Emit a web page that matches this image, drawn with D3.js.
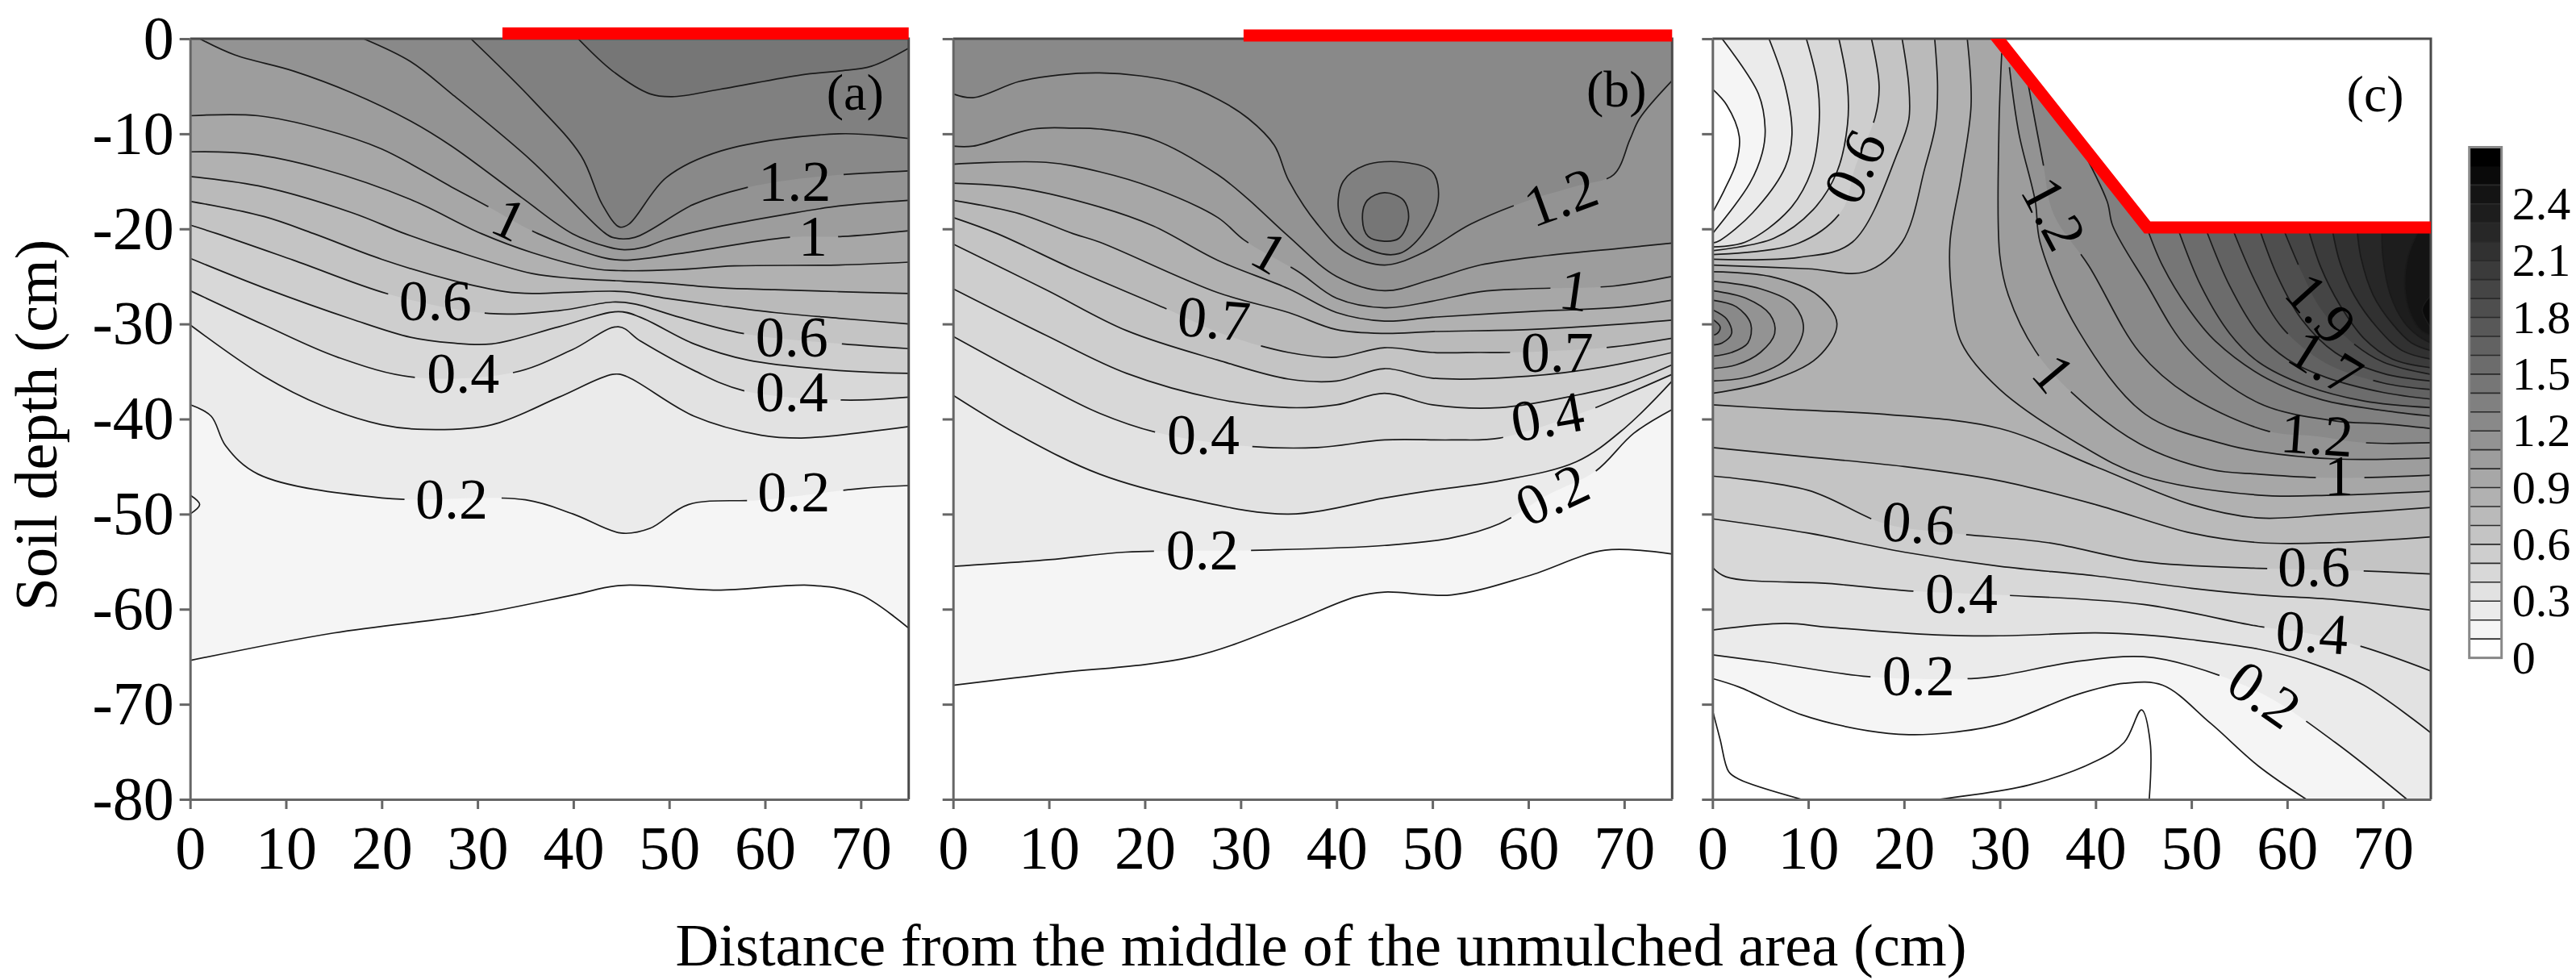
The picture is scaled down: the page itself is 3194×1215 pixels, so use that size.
<!DOCTYPE html>
<html><head><meta charset="utf-8">
<script src="https://d3js.org/d3.v7.min.js"></script>
<style>html,body{margin:0;padding:0;background:#fff}svg{display:block}text{font-family:"Liberation Serif","Times New Roman",serif;fill:#000}</style>
</head><body>
<script>
const xTicks=[0,10,20,30,40,50,60,70];
const yTicks=[0,-10,-20,-30,-40,-50,-60,-70,-80];
const barTicks=[0,0.3,0.6,0.9,1.2,1.5,1.8,2.1,2.4];
const barLevels=d3.range(0,28).map(i=>i/10);

// soil water contours: [level, [segment of (distance, depth) points, ...]]
const linesA=[
[0.1,[[[0,-65.4],[15,-62.5],[30,-60.5],[40,-58.5],[45,-57.5],[55,-58],[65,-57.5],[70,-58.5],[75,-62]]]],
[0.2,[[[0,-38.5],[2.2,-39.7],[3.7,-42.8],[7.1,-45.8],[20,-48.3],[35,-48.5],[40,-50],[45,-52],[48,-51.5],[52,-49],[60,-48.5],[70,-47.3],[75,-47]]]],
[0.3,[[[0,-30.1],[7.7,-35.5],[13.8,-38.6],[20,-40.6],[24.5,-41.1],[31.5,-40.6],[38.5,-37.7],[44.1,-35.3],[45.5,-35.5],[52.6,-39.7],[59.6,-41.7],[63.8,-42],[67.7,-41.7],[75,-40.8]]]],
[0.4,[[[0,-26.5],[7.7,-30.1],[15.4,-33.5],[23.3,-35.6],[33.8,-35.1],[39.9,-32.7],[44.7,-30.3],[47,-31.8],[52.6,-34.9],[57.7,-37],[68.1,-38],[75,-37.7]]]],
[0.5,[[[0,-23.1],[7.7,-26.2],[16.9,-29.5],[23,-31.4],[27.3,-32],[31.5,-32.1],[38.5,-30.3],[44.7,-28.7],[47,-29.3],[52.6,-32.1],[58.2,-33.8],[67.7,-34.9],[75,-35.2]]]],
[0.6,[[[0,-19.6],[2.8,-20.5],[10.8,-23.3],[21.2,-27],[31.2,-28.9],[38.5,-28.6],[44.1,-27.7],[46.4,-27.9],[51.1,-29.3],[57.7,-31],[68.1,-32.1],[75,-32.6]]]],
[0.7,[[[0,-17.1],[7.7,-18.7],[12.9,-20.5],[20,-23.2],[27.3,-25.4],[32.9,-26.6],[35.7,-26.8],[41.3,-26.6],[45.3,-26.6],[49.7,-27.3],[55.4,-28.1],[61,-28.8],[67.7,-29.4],[75,-30]]]],
[0.8,[[[0,-14.5],[7.7,-15.6],[16.9,-18.3],[22.4,-20.5],[27.3,-22.2],[35.7,-24.7],[39.9,-25.2],[45.3,-25.5],[49.2,-25.7],[55.4,-26.2],[61,-26.4],[67.7,-26.6],[75,-26.8]]]],
[0.9,[[[0,-11.9],[6.2,-12.1],[13.8,-13.7],[23,-16.9],[30.4,-20.5],[35.7,-22.5],[42.2,-24.2],[45.3,-24.4],[50.6,-24.3],[56.8,-23.9],[67.7,-23.8],[75,-23.5]]]],
[1.0,[[[0,-8.1],[7.1,-8.1],[13.8,-9.5],[20,-11.6],[27.3,-15.6],[31,-17.6],[36.3,-20.5],[43,-23],[45.3,-23.3],[51.1,-22.6],[62.4,-20.9],[68.1,-20.8],[75,-20.2]]]],
[1.1,[[[1,0],[4.65,-1.7],[10.8,-3.4],[16.9,-5.7],[23,-8.65],[27.3,-11.3],[34.6,-16.7],[39.9,-20.5],[43.6,-21.9],[45.3,-22.2],[47.5,-21.9],[49.7,-21.1],[55,-19.8],[62,-18.5],[67.7,-17.6],[75,-17]]]],
[1.2,[[[18.1,0],[23,-2.4],[27.3,-5.8],[35.7,-12.9],[43,-20.2],[44.1,-20.9],[46.4,-20.9],[52.6,-17.4],[57.9,-15.7],[63,-14.8],[68.1,-14.3],[75,-13.9]]]],
[1.3,[[[29.3,0],[35.7,-6.4],[40.8,-12.3],[43,-17.4],[44.8,-19.8],[45.8,-19.5],[49.7,-14.6],[55.4,-11.8],[67.7,-10],[75,-10.5]]]],
[1.4,[[[40.5,0],[44.1,-3.4],[48,-5.8],[50.3,-6.1],[55.4,-5.3],[63.8,-3.8],[67.7,-3.4],[71.1,-2.9],[75,-1]]]]
];
const linesB=[
[0.1,[[[0,-68],[10,-66.8],[25,-65],[35,-61.5],[42,-58.7],[45,-58.2],[52,-58.5],[60,-56.5],[68,-53.8],[75,-54.2]]]],
[0.2,[[[0,-55.5],[10,-54.8],[18,-54],[32,-53.8],[45,-53.3],[52,-52.5],[57,-51],[62,-48],[67,-45.5],[71,-41.5],[75,-39]]]],
[0.3,[[[0,-37.5],[6.9,-41.7],[15.3,-45.8],[25,-48.5],[35,-50],[45,-48.3],[50,-47.5],[57,-46.5],[65,-44.5],[70,-41],[75,-36]]]],
[0.4,[[[0,-31.3],[9.7,-36.6],[15.3,-39.4],[21.2,-41.4],[30,-42.8],[38,-43],[45,-42.2],[52,-42.2],[57,-42],[66,-39.2],[70,-37.5],[75,-35.3]]]],
[0.5,[[[0,-26.3],[9.7,-31.2],[18.1,-35.2],[27.6,-37.9],[35,-38.8],[40,-38.5],[45,-37.3],[50,-38.5],[57,-38.8],[65,-37.5],[70,-36.3],[75,-34.3]]]],
[0.6,[[[0,-21.6],[9.7,-26.4],[18.1,-30.7],[27.6,-33.8],[35,-35.8],[40,-36],[45,-34.7],[50,-35.7],[60,-35.5],[68,-34.5],[75,-33]]]],
[0.7,[[[0,-18.8],[4.6,-20.5],[12.5,-24.2],[22,-28.3],[28,-31],[35,-33],[40,-33.5],[45,-32.5],[50,-33],[55,-33],[58,-33],[68,-32.5],[75,-31.5]]]],
[0.8,[[[0,-17],[6.9,-18.4],[12.5,-20.5],[15.3,-21.4],[27.6,-26.7],[35,-28.8],[40,-30.6],[45,-31],[50,-30.8],[60,-30.6],[70,-30],[75,-29.6]]]],
[0.9,[[[0,-15.2],[6.9,-15.7],[15.3,-17.7],[20.9,-19.7],[27.6,-23.3],[35,-26.3],[40,-28.8],[45,-29.7],[50,-29.3],[60,-28.7],[70,-28.2],[75,-27.5]]]],
[1.0,[[[0,-13.2],[9.7,-13],[15.3,-14],[20.9,-15.7],[27.6,-18.8],[30.4,-21.2],[36,-24.5],[40,-27.3],[45,-28.3],[50,-27.6],[55,-26.6],[60,-26.3],[69,-26],[75,-25]]]],
[1.1,[[[0,-11.3],[2.1,-11.3],[8.3,-9.5],[12.5,-9.4],[15.3,-9.5],[20.9,-10.6],[27.6,-14.3],[30.8,-16.9],[35,-20.8],[40,-25],[45,-26.5],[50,-25.3],[55,-23.8],[62,-22.8],[70,-22],[75,-21.5]]]],
[1.2,[[[0,-5.8],[2.1,-6.2],[6.9,-4.5],[11.1,-3.8],[15.3,-3.6],[19.5,-3.9],[23.7,-4.7],[27.7,-6.4],[30.8,-8.4],[33.5,-11.2],[35,-14.9],[38,-19.5],[41,-22.5],[45,-23.8],[49,-22.5],[54,-19.5],[60,-17],[65,-15.5],[68.9,-14.3],[70.6,-10.6],[71.6,-8.4],[75,-4.4]]]]
];
const bubblesB=[
[1.3,[[40.2,-18],[40.7,-15],[43,-13.3],[47,-13],[50,-14],[50.6,-17],[49,-20.5],[46.5,-22.6],[43.7,-22.3],[41.3,-20.5]]],
[1.4,[[42.7,-19],[43.2,-17],[45,-16.2],[47,-17],[47.5,-19],[46.5,-21],[45,-21.3],[43.3,-20.8]]]
];
const linesC=[
[0.1,[[[0,-67.3],[2.8,-68.2],[9.3,-71.1],[16.3,-72.8],[20.5,-73.2],[24.7,-73],[30,-72.1],[38,-69],[43,-67.8],[47,-68],[52,-72],[57,-76.5],[62,-80]]]],
[0.2,[[[1,0],[4.8,-5.8],[5.5,-9.5],[5.2,-12],[3.9,-15.2],[0,-20.5]],[[0,-64.8],[6,-65.6],[16.3,-67.1],[27,-67.3],[30,-67],[38,-65.5],[45,-65],[50,-66],[57.6,-69],[65,-74],[72.5,-80]]]],
[0.3,[[[5.9,0],[7.6,-5],[8.3,-10.1],[7.6,-13.5],[4.2,-18.3],[0.8,-21.2],[0,-21.5]],[[0,-62.2],[7.6,-61.5],[12.1,-61.9],[23.3,-62.7],[30,-62.8],[40,-62.5],[45,-62.7],[50,-63.2],[57,-64.2],[62,-65.5],[68,-68],[75,-73]]]],
[0.4,[[[9.8,0],[11,-5],[11.1,-9.5],[10.3,-14],[8,-18],[3.4,-21.4],[0,-21.9]],[[0,-55.6],[1.4,-56.6],[12.1,-57.3],[20.9,-58.1],[30,-58.5],[45,-59.5],[57,-61.8],[62,-62.5],[68,-64],[75,-66.5]]]],
[0.5,[[[13.2,0],[14.1,-5],[14.1,-9],[13,-14],[10.5,-18],[6.4,-21],[0,-22.3]],[[0,-50.5],[10,-52],[20,-54],[30,-55.5],[40,-56.5],[50,-57.8],[57,-58.5],[65,-59],[75,-60.1]]]],
[0.6,[[[16.6,0],[17.4,-5],[17,-8.2],[14.9,-13.5],[13.5,-18.1],[9,-21.5],[0,-22.7]],[[0,-46],[10,-47.5],[18,-51],[25,-52],[35,-53],[45,-55],[57,-55.7],[66,-55.9],[75,-56.3]]]],
[0.7,[[[19.8,0],[20.5,-5],[20.5,-8.5],[19.4,-11.8],[14.6,-21.4],[9,-23],[0,-23.2]],[[0,-43],[10,-44],[20,-45],[30,-46.5],[40,-49],[50,-52],[57,-53],[65,-53],[75,-52.4]]]],
[0.8,[[[23.2,0],[23.5,-5],[23.3,-9],[22.2,-13.5],[19.8,-21.4],[16,-24.5],[10,-24.2],[0,-23.8]],[[0,-38.5],[8,-39],[18,-39.5],[30,-41],[40,-45],[50,-49],[57,-50.4],[65,-50],[75,-49.3]]]],
[0.9,[[[26.6,0],[27,-7],[26,-14.3],[24.8,-21.4],[25,-27],[26,-32],[30,-36.9],[38.2,-42.6],[45,-46],[57,-48],[65,-48],[75,-47.6]]]],
[1.0,[[[30.2,-1.5],[29.9,-10],[30,-22.8],[30.9,-27],[33.7,-32.8],[37.6,-37.3],[44.6,-42.6],[52,-45.3],[57,-45.8],[65,-46.2],[75,-45.9]]]],
[1.1,[[[31,-3],[32,-10],[33.7,-17.1],[34.2,-21.4],[38.2,-30.7],[45.2,-39.5],[53.3,-42.6],[57,-43.4],[65,-44.2],[75,-44.1]]]],
[1.2,[[[33,-5],[34.5,-13],[35.6,-18.4],[39.3,-23.9],[44.6,-33],[49.7,-37.5],[58.1,-41.3],[63,-41.8],[68.2,-42.5],[75,-42.5]]]],
[1.3,[[[38,-10.5],[41.2,-17.1],[41.8,-19.7],[45.2,-25.6],[49.7,-32.7],[57,-38.3],[65,-40.2],[70,-40.5],[75,-41]]]],
[1.4,[[[45.4,-20],[47,-23.9],[49.7,-28.4],[52.5,-31.8],[58,-35.8],[63.7,-38],[70,-39.1],[75,-39.7]]]],
[1.5,[[[48.6,-20],[51,-26],[54,-31],[57,-34],[62,-36.5],[68,-38.1],[75,-38.8]]]],
[1.6,[[[51.5,-20],[54,-26],[57,-31],[60,-33.7],[64,-35.6],[70,-37.2],[75,-37.9]]]],
[1.7,[[[54.3,-20],[56.7,-25.6],[59.5,-30.4],[64,-34.1],[70,-36.2],[75,-36.9]]]],
[1.8,[[[57.1,-20],[59,-25],[61.5,-29.5],[65,-33],[70,-35.2],[75,-36]]]],
[1.9,[[[59.6,-20],[61.5,-24.5],[63.5,-28.4],[66.5,-31.7],[70,-34],[75,-35.3]]]],
[2.0,[[[62.2,-20],[63.5,-24],[65.5,-28],[68,-31.5],[71,-33.7],[75,-34.6]]]],
[2.1,[[[64.7,-20],[65.5,-23.5],[67,-27],[69.5,-30.5],[72,-32.8],[75,-33.7]]]],
[2.2,[[[67.3,-20],[67.7,-23],[69,-27],[71,-30],[73,-32],[75,-32.8]]]],
[2.3,[[[69.9,-20],[70,-23],[70.8,-27],[72.2,-29.8],[73.6,-31.2],[75,-32]]]],
[2.4,[[[73.8,-20],[72.6,-23],[72.3,-26.3],[72.9,-29],[74,-30.7],[75,-31.2]]]]
];
// closed along the left or right edge of panel c
const edgeLoopsC=[
[0.9,[[0,-24.5],[6,-25],[11,-27],[13,-30],[11,-33.5],[6,-36],[0,-37.3]]],
[1.0,[[0,-25.5],[5,-26.3],[8.5,-28],[9.5,-30.5],[8,-33.5],[4,-35.5],[0,-36]]],
[1.1,[[0,-26.5],[3.5,-27.3],[6,-29],[6.5,-31],[5,-33],[2.5,-34.3],[0,-34.7]]],
[1.2,[[0,-27.5],[2.5,-28.2],[4,-30],[3.7,-32],[2,-33],[0,-33.4]]],
[1.3,[[0,-28.5],[1.5,-29.5],[2,-31],[1,-32],[0,-32.2]]],
[1.4,[[0,-29.5],[0.8,-30.3],[0.5,-31],[0,-31.2]]],
[2.5,[[75,-27],[74.1,-28.5],[75,-30.4]]]
];
const pocketC=[[0,-5.3],[1.5,-7],[2.8,-10.3],[2.5,-13],[1.2,-16],[0,-18.3]];
const bareLinesA=[[[0,-48],[1,-49],[0,-50]]];
const bareLinesC=[[[0,-70.6],[0.8,-73.7],[1.7,-77.1],[2.8,-77.9],[9.3,-80]],[[23.6,-80],[33,-78.5],[40,-76],[43,-74],[44.8,-70.6],[45.7,-74],[45.6,-80]]];

const mulchA=[[32.6,0.55],[75,0.55]];
const mulchB=[[30.3,0.34],[75,0.34]];
const mulchC=[[29.4,0.5],[45.4,-19.85],[75,-19.85]];
const mulchVoidC=[[29.8,0],[45.4,-19.85],[75,-19.85],[75,0]];

// contour labels: [text, level, distance, depth, rotation]
const labelsA=[["0.2",0.2,27.3,-48.5,0],["0.2",0.2,63,-47.7,0],["0.4",0.4,28.5,-35.2,0],["0.4",0.4,62.8,-37.2,0],["0.6",0.6,25.6,-27.6,0],["0.6",0.6,62.8,-31.4,0],["1.2",1.2,63.1,-15,0],["1",1.0,65,-20.8,0],["1",1.0,33.3,-19,25]];
const labelsB=[["1.2",1.2,63.4,-16.7,-20],["1",1.0,64.8,-26.5,8],["1",1.0,33,-22.5,30],["0.7",0.7,27.2,-29.5,5],["0.4",0.4,26.1,-41.7,0],["0.7",0.7,63,-33,0],["0.4",0.4,62,-39.8,-10],["0.2",0.2,26,-53.8,0],["0.2",0.2,62.5,-48,-25]];
const labelsC=[["0.6",0.6,14.9,-13.5,-65],["1.2",1.2,35.6,-18.4,62],["1",1.0,35.6,-35.2,50],["1.9",1.9,63.5,-28.4,48],["1.7",1.7,64,-34.1,32],["1.2",1.2,63.1,-41.7,4],["1",1.0,65.4,-46,0],["0.6",0.6,62.8,-55.6,0],["0.4",0.4,62.6,-62.5,4],["0.2",0.2,57.6,-69,35],["0.6",0.6,21.5,-51,4],["0.4",0.4,26,-58.4,0],["0.2",0.2,21.5,-67,0]];

const W=3194,H=1215,TOP=48,BOTTOM=991;
const svg=d3.select("body").append("svg").attr("width",W).attr("height",H);
const grey=d3.scaleLinear().domain([0,26]).range([255,0]);
const band=l=>{const g=Math.round(grey(Math.round(l*10)));return `rgb(${g},${g},${g})`;};
const y=d3.scaleLinear().domain([0,-80]).range([TOP,BOTTOM]);

function panel(id,x0,x1,lines,opts){
  const x=d3.scaleLinear().domain([0,75]).range([x0,x1]);
  const line=d3.line().x(d=>x(d[0])).y(d=>y(d[1])).curve(d3.curveCatmullRom.alpha(0.5));
  const poly=d3.line().x(d=>x(d[0])).y(d=>y(d[1]));
  const closed=d3.line().x(d=>x(d[0])).y(d=>y(d[1])).curve(d3.curveCatmullRomClosed.alpha(0.5));
  const g=svg.append("g");
  const clipId="clip"+id;
  svg.append("clipPath").attr("id",clipId).append("rect").attr("x",x0).attr("y",TOP).attr("width",x1-x0).attr("height",BOTTOM-TOP);
  const plot=g.append("g").attr("clip-path",`url(#${clipId})`);
  plot.append("rect").attr("x",x0).attr("y",TOP).attr("width",x1-x0).attr("height",BOTTOM-TOP).attr("fill","#fff");
  const fills=plot.append("g"), strokes=plot.append("g");
  const labels=opts.labels;
  function stroke(d,level){
    const p=strokes.append("path").attr("d",d).attr("fill","none").attr("stroke","#1a1a1a").attr("stroke-width",1.7);
    const mine=labels.filter(l=>l[1]===level);
    if(!mine.length)return;
    const node=p.node(),L=node.getTotalLength();
    const dash=[];let inside=false,run=0;
    for(let s=0;s<=L;s+=2){
      const pt=node.getPointAtLength(s);
      const hit=mine.some(l=>{
        const a=l[4]*Math.PI/180,dx=pt.x-x(l[2]),dy=pt.y-y(l[3]);
        const u=dx*Math.cos(a)+dy*Math.sin(a),v=-dx*Math.sin(a)+dy*Math.cos(a);
        const hw=l[0].length===1?30:60;
        return Math.abs(u)<hw&&Math.abs(v)<45;
      });
      if(hit!==inside){dash.push(run);run=0;inside=hit;}
      run+=2;
    }
    dash.push(run);
    if(dash.length>1)p.attr("stroke-dasharray",dash.join(" "));
  }
  const levels=d3.range(1,26).map(i=>i/10);
  levels.forEach(level=>{
    lines.filter(l=>Math.abs(l[0]-level)<1e-6).forEach(l=>{
      const segs=l[1];
      let d=segs.map((s,i)=>{const t=line(s);return i?"L"+t.slice(1):t;}).join("");
      const first=segs[0][0],last=segs[segs.length-1][segs[segs.length-1].length-1];
      d+=poly([[75,last[1]],[75,0],[first[0],0]]).replace("M","L")+"Z";
      fills.append("path").attr("d",d).attr("fill",band(level));
      segs.forEach(s=>stroke(line(s),level));
    });
    (opts.edgeLoops||[]).filter(l=>Math.abs(l[0]-level)<1e-6).forEach(l=>{
      fills.append("path").attr("d",line(l[1])+"Z").attr("fill",band(level));
      stroke(line(l[1]),level);
    });
    (opts.bubbles||[]).filter(l=>Math.abs(l[0]-level)<1e-6).forEach(l=>{
      fills.append("path").attr("d",closed(l[1])).attr("fill",band(level));
      stroke(closed(l[1]),level);
    });
    if(opts.pocket&&Math.abs(level-0.1)<1e-6){
      fills.append("path").attr("d",line(opts.pocket)+"Z").attr("fill","#fff");
      stroke(line(opts.pocket),level);
    }
  });
  (opts.bare||[]).forEach(s=>stroke(line(s),-1));
  if(opts.voidShape) plot.append("path").attr("d",poly(opts.voidShape)+"Z").attr("fill","#fff");

  // frame
  g.append("path").attr("d",poly([[75,-80],[75,0],[0,0]])).attr("fill","none").attr("stroke","#4a4a4a").attr("stroke-width",3);
  const axStyle=a=>{a.selectAll("path,line").attr("stroke","#666").attr("stroke-width",3);a.selectAll("text").attr("fill","#000").attr("font-size",76).attr("font-family",'"Liberation Serif",serif');};
  g.append("g").attr("transform",`translate(${x0},0)`).call(d3.axisLeft(y).tickValues(yTicks).tickSize(13).tickSizeOuter(0).tickPadding(7).tickFormat(opts.yLabels?(d=>String(d)):(()=>""))).call(axStyle);
  g.append("g").attr("transform",`translate(0,${BOTTOM})`).call(d3.axisBottom(x).tickValues(xTicks).tickSize(12).tickSizeOuter(0).tickPadding(20).tickFormat(d=>String(d))).call(axStyle);

  labels.forEach(l=>{
    g.append("text").attr("transform",`translate(${x(l[2])},${y(l[3])}) rotate(${l[4]})`).attr("text-anchor","middle").attr("dy","0.33em").attr("font-size",72).text(l[0]);
  });
  g.append("text").attr("x",x(opts.tag[1])).attr("y",y(opts.tag[2])).attr("text-anchor","middle").attr("dy","0.3em").attr("font-size",64).text(opts.tag[0]);
  const red=g.append("path").attr("d",poly(opts.mulch)).attr("fill","none").attr("stroke","#ff0000").attr("stroke-width",15).attr("stroke-linejoin","miter");
  if(opts.voidShape) red.attr("clip-path",`url(#${clipId})`);
}

panel("a",235.7,1126.7,linesA,{labels:labelsA,bare:bareLinesA,mulch:mulchA,yLabels:true,tag:["(a)",69.4,-5.8]});
panel("b",1181.7,2073.3,linesB,{labels:labelsB,bubbles:bubblesB,mulch:mulchB,tag:["(b)",69.2,-5.5]});
panel("c",2123.3,3014,linesC,{labels:labelsC,edgeLoops:edgeLoopsC,pocket:pocketC,bare:bareLinesC,mulch:mulchC,voidShape:mulchVoidC,tag:["(c)",69.2,-6]});

// colour bar
const barY=d3.scaleLinear().domain([0,2.7]).range([815.6,182.5]);
const bar=svg.append("g");
bar.selectAll("rect.band").data(barLevels.slice(0,27)).join("rect").attr("class","band")
  .attr("x",3061.7).attr("width",40).attr("y",d=>barY(d+0.1)).attr("height",d=>barY(d)-barY(d+0.1)+0.5).attr("fill",d=>band(d));
bar.selectAll("line.lev").data(barLevels.slice(1,26)).join("line").attr("class","lev")
  .attr("x1",3061.7).attr("x2",3101.7).attr("y1",d=>barY(d)).attr("y2",d=>barY(d)).attr("stroke","#2a2a2a").attr("stroke-width",1.6);
bar.append("rect").attr("x",3061.7).attr("y",barY(2.7)).attr("width",40).attr("height",barY(0)-barY(2.7)).attr("fill","none").attr("stroke","#888").attr("stroke-width",3);
bar.append("g").attr("transform","translate(3101.7,0)").call(d3.axisRight(barY).tickValues(barTicks).tickSize(0).tickPadding(13).tickFormat(d=>String(d)))
  .call(a=>{a.select(".domain").remove();a.selectAll("text").attr("fill","#000").attr("font-size",58).attr("font-family",'"Liberation Serif",serif');});

svg.append("text").attr("transform","translate(46,527) rotate(-90)").attr("text-anchor","middle").attr("dy","0.33em").attr("font-size",74).text("Soil depth (cm)");
svg.append("text").attr("x",1638).attr("y",1197).attr("text-anchor","middle").attr("font-size",74.5).text("Distance from the middle of the unmulched area (cm)");
</script>
</body></html>
